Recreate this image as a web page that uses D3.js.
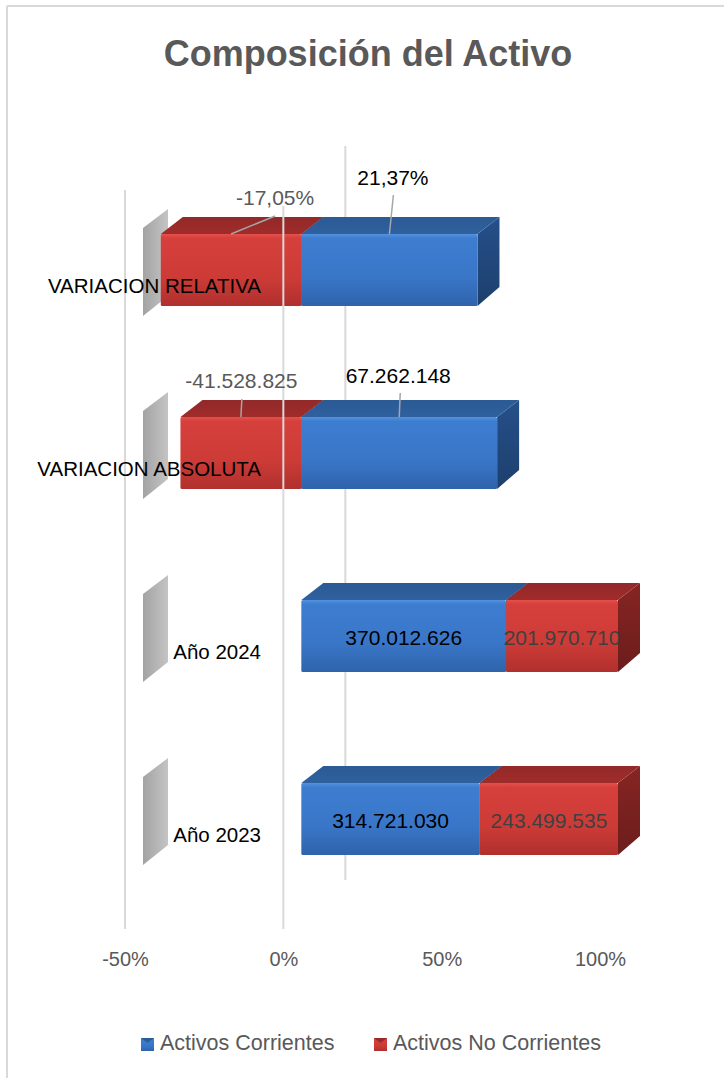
<!DOCTYPE html>
<html>
<head>
<meta charset="utf-8">
<script src="https://cdn.jsdelivr.net/npm/d3@7"></script>
<style>
html,body{margin:0;padding:0;background:#fff;}
svg{display:block;font-family:"Liberation Sans",Arial,sans-serif;}
</style>
</head>
<body>
<svg id="chart" width="724" height="1078"></svg>
<script>
const categories = ["VARIACION RELATIVA", "VARIACION ABSOLUTA", "Año 2024", "Año 2023"];
const corrientes = [21.37, 67262148, 370012626, 314721030];
const noCorrientes = [-17.05, -41528825, 201970710, 243499535];
const corrientesLabels = ["21,37%", "67.262.148", "370.012.626", "314.721.030"];
const noCorrientesLabels = ["-17,05%", "-41.528.825", "201.970.710", "243.499.535"];
const tickValues = [-0.5, 0, 0.5, 1];
const tickLabels = ["-50%", "0%", "50%", "100%"];
const seriesNames = ["Activos Corrientes", "Activos No Corrientes"];

const svg = d3.select("#chart");
const defs = svg.append("defs");

function vGrad(id, stops) {
  const g = defs.append("linearGradient").attr("id", id).attr("x1", 0).attr("y1", 0).attr("x2", 0).attr("y2", 1);
  stops.forEach(s => g.append("stop").attr("offset", s[0]).attr("stop-color", s[1]));
}
vGrad("blueFront", [[0, "#5592de"], [0.06, "#3d7dd0"], [0.6, "#3976c8"], [1, "#2f63ab"]]);
vGrad("redFront", [[0, "#e5504b"], [0.06, "#d6403c"], [0.6, "#cd3b37"], [1, "#b0302d"]]);
vGrad("blueTop", [[0, "#2b5a94"], [1, "#2f619f"]]);
vGrad("redTop", [[0, "#92292a"], [1, "#a02c29"]]);
vGrad("blueSide", [[0, "#26508a"], [1, "#1d3f6d"]]);
vGrad("redSide", [[0, "#862523"], [1, "#6c1d1c"]]);
const wg = defs.append("linearGradient").attr("id", "wall").attr("x1", 0).attr("y1", 0).attr("x2", 1).attr("y2", 0);
wg.append("stop").attr("offset", 0).attr("stop-color", "#a3a3a3");
wg.append("stop").attr("offset", 1).attr("stop-color", "#c4c4c4");

const colors = [
  {front: "url(#blueFront)", top: "url(#blueTop)", side: "url(#blueSide)"},
  {front: "url(#redFront)", top: "url(#redTop)", side: "url(#redSide)"}
];

// chart border (top and left visible)
svg.append("line").attr("x1", 7).attr("y1", 6).attr("x2", 724).attr("y2", 6).attr("stroke", "#d9d9d9").attr("stroke-width", 2);
svg.append("line").attr("x1", 7).attr("y1", 6).attr("x2", 7).attr("y2", 1078).attr("stroke", "#d9d9d9").attr("stroke-width", 2);

// title
svg.append("text").attr("x", 368).attr("y", 66).attr("text-anchor", "middle")
  .attr("font-size", 36).attr("font-weight", "bold").attr("fill", "#595959")
  .text("Composición del Activo");

// scales
const x = d3.scaleLinear().domain([-0.5, 1]).range([125, 600]);
const y = d3.scaleBand().domain(categories).range([178.5, 910.5]).paddingInner(0.6066).paddingOuter(0.3033);
const FX = 18;
const DX = 22, DY = -17;

// gridlines behind bars
const grid = svg.append("g").attr("stroke", "#d9d9d9").attr("stroke-width", 2);
grid.append("line").attr("x1", x(-0.5)).attr("x2", x(-0.5)).attr("y1", 190).attr("y2", 929);
grid.append("line").attr("x1", x(0) + 62).attr("x2", x(0) + 62).attr("y1", 146).attr("y2", 880);

// axis labels
const axis = d3.axisBottom(x).tickValues(tickValues).tickFormat((d, i) => tickLabels[i]).tickSize(0).tickPadding(0);
const ax = svg.append("g").attr("transform", "translate(0,952)").call(axis);
ax.select(".domain").remove();
ax.selectAll("text").attr("font-size", 20).attr("fill", "#595959").attr("font-family", "Liberation Sans, Arial, sans-serif");

// stacked percentage segments
const segs = [];
categories.forEach((c, i) => {
  const vals = [corrientes[i], noCorrientes[i]];
  const labels = [corrientesLabels[i], noCorrientesLabels[i]];
  const total = d3.sum(vals, v => Math.abs(v));
  let pos = 0, neg = 0;
  vals.forEach((v, s) => {
    const p = v / total;
    let x0, x1;
    if (v >= 0) { x0 = pos; x1 = pos + p; pos += p; }
    else { x1 = neg; x0 = neg + p; neg += p; }
    segs.push({cat: c, i, s, v, p, x0, x1, label: labels[s]});
  });
});

// left wall pieces
const wall = svg.append("g");
categories.forEach(c => {
  const t = y(c);
  wall.append("path")
    .attr("d", `M143,${t - 6} L168,${t - 25} L168,${t + 62} L143,${t + 82} Z`)
    .attr("fill", "url(#wall)");
});

// bars
const bars = svg.append("g");
categories.forEach(c => {
  const cs = segs.filter(d => d.cat === c).sort((a, b) => a.x0 - b.x0);
  const t = y(c), h = y.bandwidth();
  cs.forEach(d => {
    const a = x(d.x0) + FX, b = x(d.x1) + FX;
    const col = colors[d.s];
    bars.append("path")
      .attr("d", `M${b},${t} L${b + DX},${t + DY} L${b + DX},${t + h + DY - 2} L${b},${t + h} Z`)
      .attr("fill", col.side);
    bars.append("path")
      .attr("d", `M${a},${t} L${a + DX},${t + DY} L${b + DX},${t + DY} L${b},${t} Z`)
      .attr("fill", col.top);
    bars.append("rect").attr("x", a).attr("y", t).attr("width", b - a).attr("height", h)
      .attr("rx", 1.5).attr("fill", col.front);
  });
});

// 0% axis line drawn over the bars
svg.append("line").attr("x1", x(0)).attr("x2", x(0)).attr("y1", 206).attr("y2", 929)
  .attr("stroke", "#d9d9d9").attr("stroke-width", 2);

// labels
const lab = svg.append("g").attr("font-size", 21).attr("text-anchor", "middle");
const outside = {
  "0-0": {lx: 3.5, ly: -49, sx: 4, sy: -39},
  "0-1": {lx: 44, ly: -29, sx: 44, sy: -18},
  "1-0": {lx: -1, ly: -34, sx: 1, sy: -24},
  "1-1": {lx: 0.5, ly: -29, sx: 1, sy: -18}
};
segs.forEach(d => {
  const t = y(d.cat);
  const cx = (x(d.x0) + x(d.x1)) / 2 + FX;
  const key = d.i + "-" + d.s;
  const fill = d.s === 0 ? "#000000" : (d.v < 0 ? "#595959" : "#404040");
  if (outside[key]) {
    const o = outside[key];
    lab.append("line").attr("x1", cx + o.sx).attr("y1", t + o.sy).attr("x2", cx).attr("y2", t)
      .attr("stroke", "#a6a6a6").attr("stroke-width", 1.5);
    lab.append("text").attr("x", cx + o.lx).attr("y", t + o.ly).attr("fill", fill).text(d.label);
  } else {
    lab.append("text").attr("x", cx).attr("y", t + 45).attr("fill", fill).text(d.label);
  }
});

// category labels
svg.append("g").selectAll("text").data(categories).join("text")
  .attr("x", 261).attr("y", d => y(d) + 59).attr("text-anchor", "end")
  .attr("font-size", 20.5).attr("fill", "#000").text(d => d);

// legend
const leg = svg.append("g");
const legX = [141, 374];
seriesNames.forEach((n, i) => {
  leg.append("rect").attr("x", legX[i]).attr("y", 1038).attr("width", 13).attr("height", 13)
    .attr("fill", colors[i].front);
  leg.append("path").attr("d", `M${legX[i]},${1038} L${legX[i] + 13},${1038} L${legX[i] + 6.5},${1043} Z`)
    .attr("fill", colors[i].top);
  leg.append("text").attr("x", legX[i] + 19).attr("y", 1050).attr("font-size", 21.5)
    .attr("fill", "#595959").text(n);
});
</script>
</body>
</html>
